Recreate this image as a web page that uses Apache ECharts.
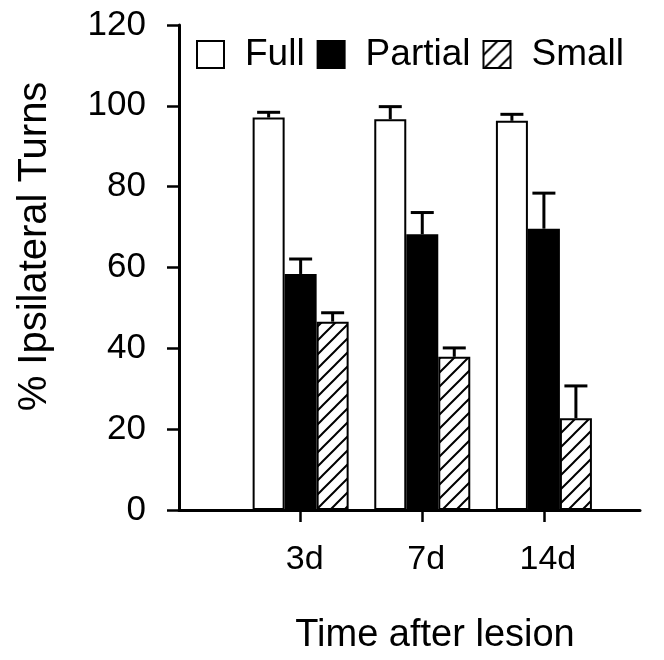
<!DOCTYPE html>
<html>
<head>
<meta charset="utf-8">
<script src="https://cdn.jsdelivr.net/npm/echarts@6/dist/echarts.min.js"></script>
<style>
html,body{margin:0;padding:0;background:#fff;}
#chart{width:664px;height:660px;}
</style>
</head>
<body>
<div id="chart"></div>
<script>
// ---- data ----
const categories = ['3d', '7d', '14d'];
const catPos = [1, 2, 3];
const seriesNames = ['Full', 'Partial', 'Small'];
const fullVals = [97.1, 96.7, 96.3];
const fullErr = [1.3, 3.1, 1.6];
const partialVals = [58.4, 68.2, 69.6];
const partialErr = [3.7, 5.4, 8.8];
const smallVals = [46.6, 37.9, 22.7];
const smallErr = [2.2, 2.2, 8.0];
const yTicks = [0, 20, 40, 60, 80, 100, 120];

// ---- styling constants ----
const FONT = '"Liberation Sans", Arial, Helvetica, sans-serif';
const BAR_W = 32;

function hatchPattern() {
  const s = 14;
  const c = document.createElement('canvas');
  c.width = s; c.height = s;
  const g = c.getContext('2d');
  g.fillStyle = '#fff';
  g.fillRect(0, 0, s, s);
  g.strokeStyle = '#000';
  g.lineWidth = 2;
  g.beginPath();
  g.moveTo(-2, s + 2); g.lineTo(s + 2, -2);
  g.moveTo(-2, 2); g.lineTo(2, -2);
  g.moveTo(s - 2, s + 2); g.lineTo(s + 2, s - 2);
  g.stroke();
  return c;
}

const chart = echarts.init(document.getElementById('chart'), null, {renderer: 'canvas'});

const fills = ['#ffffff', '#000000', {image: hatchPattern(), repeat: 'repeat'}];
const valsList = [fullVals, partialVals, smallVals];
const errList = [fullErr, partialErr, smallErr];

const barSeries = seriesNames.map((name, i) => ({
  name: name,
  type: 'bar',
  barWidth: BAR_W,
  barGap: '0%',
  data: catPos.map((p, k) => [p, valsList[i][k]]),
  itemStyle: {color: fills[i], borderColor: '#000', borderWidth: 2},
  emphasis: {disabled: true},
  z: 2
}));

const errSeries = seriesNames.map((name, i) => ({
  type: 'custom',
  name: name + ' err',
  data: catPos.map((p, k) => [p, valsList[i][k], errList[i][k]]),
  renderItem: function (params, api) {
    const x = api.value(0), y = api.value(1), e = api.value(2);
    const base = api.coord([x, y]);
    const top = api.coord([x, y + e]);
    const off = (i - 1) * BAR_W;
    const cx = base[0] + off;
    const capHalf = 11.5;
    return {
      type: 'group',
      children: [
        {type: 'line', shape: {x1: cx, y1: base[1], x2: cx, y2: top[1]}, style: {stroke: '#000', lineWidth: 3}},
        {type: 'line', shape: {x1: cx - capHalf, y1: top[1], x2: cx + capHalf, y2: top[1]}, style: {stroke: '#000', lineWidth: 3}}
      ]
    };
  },
  z: 3,
  silent: true
}));

const option = {
  animation: false,
  backgroundColor: '#fff',
  grid: {left: 179, right: 24, top: 25, bottom: 149, containLabel: false},
  legend: {
    data: seriesNames,
    left: 191, top: 31,
    itemWidth: 27, itemHeight: 27,
    itemGap: 12,
    icon: 'rect',
    textStyle: {fontFamily: FONT, fontSize: 37, color: '#000', padding: [0, 0, 0, 16]},
    selectedMode: false
  },
  xAxis: {
    type: 'value',
    min: 0, max: 3.79,
    interval: 1,
    name: 'Time after lesion',
    nameLocation: 'middle',
    nameGap: 107,
    nameTextStyle: {fontFamily: FONT, fontSize: 38, color: '#000', padding: [0, 0, 0, 51]},
    axisLine: {lineStyle: {color: '#000', width: 3}},
    axisTick: {show: true, length: 12, lineStyle: {color: '#000', width: 2.5}, customValues: catPos},
    axisLabel: {
      fontFamily: FONT, fontSize: 34, color: '#000', margin: 33,
      padding: [0, 0, 0, 8],
      customValues: catPos,
      formatter: function (v) {
        const idx = catPos.indexOf(Math.round(v));
        return (Math.abs(v - Math.round(v)) < 1e-6 && idx >= 0) ? categories[idx] : '';
      }
    },
    splitLine: {show: false}
  },
  yAxis: {
    type: 'value',
    min: yTicks[0], max: yTicks[yTicks.length - 1], interval: 20,
    name: '% Ipsilateral Turns',
    nameLocation: 'middle',
    nameGap: 124,
    nameTextStyle: {fontFamily: FONT, fontSize: 40, color: '#000', padding: [0, 0, 0, 42]},
    axisLine: {show: true, lineStyle: {color: '#000', width: 3}},
    axisTick: {show: true, length: 12, inside: false, lineStyle: {color: '#000', width: 2.5}},
    axisLabel: {fontFamily: FONT, fontSize: 35, color: '#000', margin: 33},
    splitLine: {show: false}
  },
  series: barSeries.concat(errSeries)
};
chart.setOption(option);
</script>
</body>
</html>
